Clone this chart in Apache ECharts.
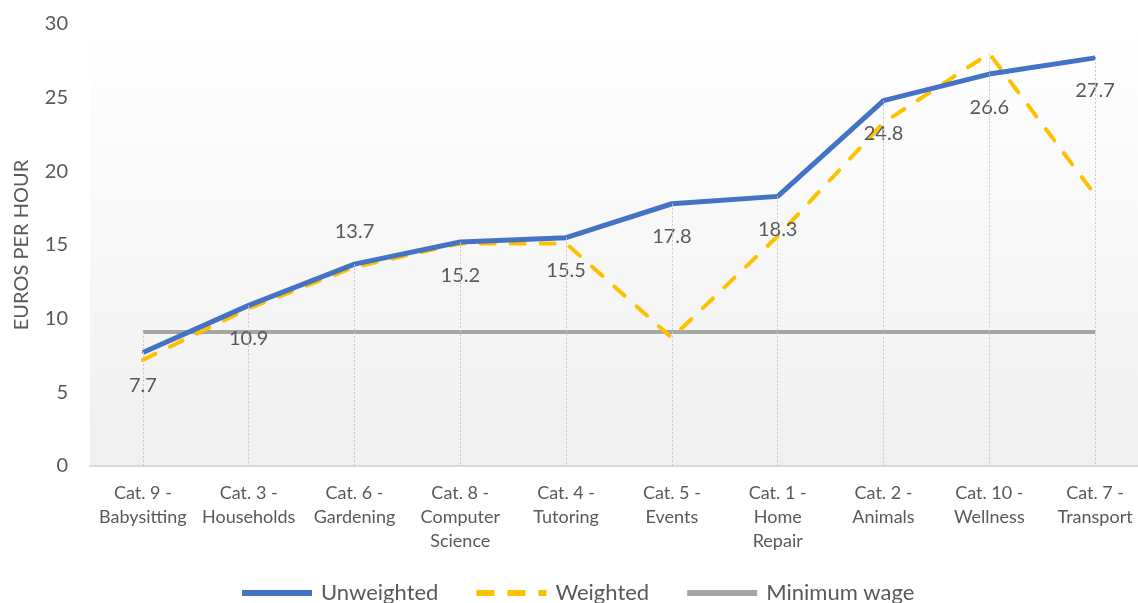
<!DOCTYPE html>
<html>
<head>
<meta charset="utf-8">
<script src="https://cdn.jsdelivr.net/npm/echarts@6/dist/echarts.min.js"></script>
<style>html,body{margin:0;padding:0;background:#fff;}#c{width:1138px;height:603px;}</style>
</head>
<body>
<div id="c"></div>
<script>
const categories = [
  "Cat. 9 -\nBabysitting", "Cat. 3 -\nHouseholds", "Cat. 6 -\nGardening",
  "Cat. 8 -\nComputer\nScience", "Cat. 4 -\nTutoring", "Cat. 5 -\nEvents",
  "Cat. 1 -\nHome\nRepair", "Cat. 2 -\nAnimals", "Cat. 10 -\nWellness", "Cat. 7 -\nTransport"
];
const unweighted = [7.7, 10.9, 13.7, 15.2, 15.5, 17.8, 18.3, 24.8, 26.6, 27.7];
const weighted = [7.2, 10.7, 13.5, 15.1, 15.1, 8.7, 15.6, 23.3, 28.0, 18.4];
const minimumWage = [9.1, 9.1, 9.1, 9.1, 9.1, 9.1, 9.1, 9.1, 9.1, 9.1];
const yTicks = [0, 5, 10, 15, 20, 25, 30];
const labelsAbove = [2];

const FONT = 'Lato';
const TXT = '#595959';

const SOLID_ICON = 'path://M0,0H70V6H0Z';
const DASH_ICON = 'path://M0,0H18V6H0Z M31,0H49V6H31Z M62,0H70V6H62Z';

const dropLines = categories.map((c, i) => {
  const top = Math.max(unweighted[i], weighted[i], minimumWage[i]);
  return [{ coord: [i, top] }, { coord: [i, 0] }];
});

const chart = echarts.init(document.getElementById('c'), null, { renderer: 'canvas' });
chart.setOption({
  animation: false,
  textStyle: { fontFamily: FONT, color: TXT },
  grid: {
    left: 90, right: -10, top: 24, bottom: 137,
    outerBoundsMode: 'none', containLabel: false,
    show: true, borderWidth: 0,
    backgroundColor: new echarts.graphic.LinearGradient(0, 0, 0, 1, [
      { offset: 0, color: '#ffffff' }, { offset: 1, color: '#f0f0f0' }
    ])
  },
  legend: {
    top: 577, left: 237,
    itemWidth: 70, itemHeight: 6, itemGap: 38,
    textStyle: { fontFamily: FONT, fontSize: 22, color: TXT, padding: [0, 0, 0, 4] },
    data: [
      { name: 'Unweighted', icon: SOLID_ICON },
      { name: 'Weighted', icon: DASH_ICON },
      { name: 'Minimum wage', icon: SOLID_ICON }
    ]
  },
  xAxis: {
    type: 'category',
    data: categories,
    boundaryGap: true,
    axisLine: { show: true, lineStyle: { color: '#d9d9d9', width: 2 } },
    axisTick: { show: false },
    splitLine: { show: false },
    axisLabel: {
      interval: 0, margin: 15, fontFamily: FONT, fontSize: 18, color: TXT, lineHeight: 24
    }
  },
  yAxis: {
    type: 'value', min: yTicks[0], max: yTicks[yTicks.length - 1], interval: 5,
    name: 'EUROS PER HOUR', nameLocation: 'middle', nameGap: 58, nameRotate: 90,
    nameTextStyle: { fontFamily: FONT, fontSize: 20, color: TXT },
    axisLine: { show: false }, axisTick: { show: false },
    splitLine: { show: false },
    axisLabel: { margin: 22, fontFamily: FONT, fontSize: 20, color: TXT }
  },
  series: [
    {
      name: 'drops', type: 'line', data: [], z: 1, silent: true,
      markLine: {
        silent: true, symbol: 'none', label: { show: false },
        lineStyle: { color: '#c8c8c8', width: 1, type: [2, 2] },
        emphasis: { disabled: true },
        data: dropLines
      }
    },
    {
      name: 'Minimum wage', type: 'line', data: minimumWage, z: 2,
      showSymbol: false,
      lineStyle: { color: '#A5A5A5', width: 4 },
      itemStyle: { color: '#A5A5A5' }
    },
    {
      name: 'Weighted', type: 'line', data: weighted, z: 3,
      showSymbol: false,
      lineStyle: { color: '#FFC000', width: 4, type: [14, 16], cap: 'round' },
      itemStyle: { color: '#FFC000' }
    },
    {
      name: 'Unweighted', type: 'line', z: 4,
      data: unweighted.map((v, i) => ({
        value: v,
        label: { position: labelsAbove.includes(i) ? 'top' : 'bottom' }
      })),
      showSymbol: true, symbol: 'circle', symbolSize: 2,
      lineStyle: { color: '#4472C4', width: 5 },
      itemStyle: { color: '#4472C4' },
      label: {
        show: true, distance: 22, fontFamily: FONT, fontSize: 20, color: TXT,
        formatter: p => p.value.toFixed(1)
      }
    }
  ]
});
</script>
</body>
</html>
